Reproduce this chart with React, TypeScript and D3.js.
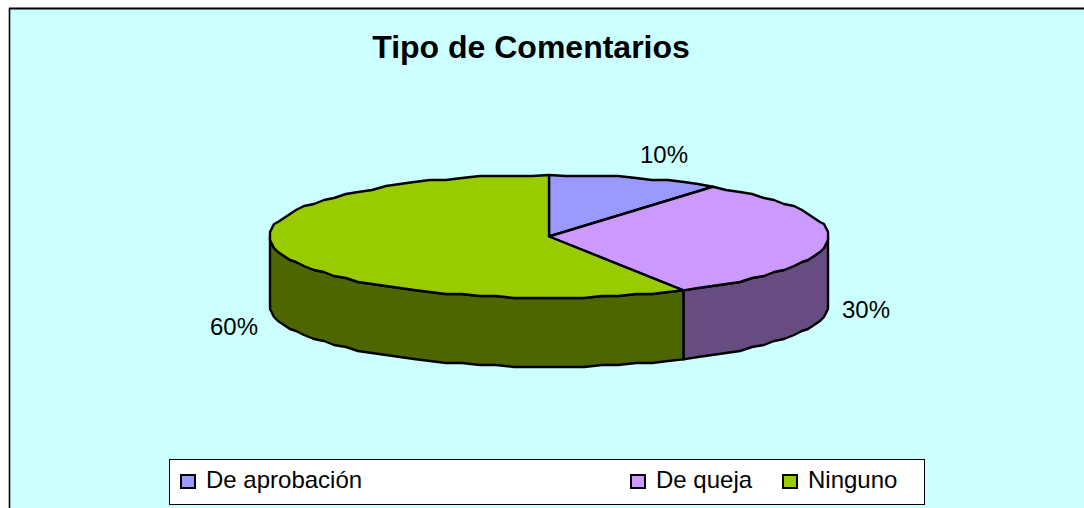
import React from "react";
import * as d3 from "d3";

const title = "Tipo de Comentarios";
const categories = ["De aprobación", "De queja", "Ninguno"];
const percentLabels = ["10%", "30%", "60%"];
// Sweep of each slice as drawn in the 3D projection (the picture's perspective widens the front)
const drawnShares = [10, 32, 58];
const topColors = ["#9999FF", "#CC99FF", "#99CC00"];
const sideColors = ["#4C4C80", "#664C80", "#4D6600"];

const W = 1084;
const H = 508;
const FONT = "'Liberation Sans', Arial, sans-serif";
const DEPTH = 69;
const STEP = (3.6 * Math.PI) / 180;
const GRID = 2;

const sx = d3.scaleLinear().domain([-1, 1]).range([270, 828]);
const sy = d3.scaleLinear().domain([-1, 1]).range([175, 298]);

const arcs = d3
  .pie<number>()
  .sort(null)
  .value((d) => d)(drawnShares);

const snap = (v: number) => Math.round(v / GRID) * GRID;

// Outline point on the ellipse; coarse snapping mimics the stepped outline of the original
const rim = (a: number, dy = 0): [number, number] => {
  const x = sx(Math.sin(a));
  const y = sy(-Math.cos(a));
  return [snap(x), snap(y) + dy];
};

const samples = (a0: number, a1: number, dy = 0): [number, number][] => {
  const pts: [number, number][] = [];
  const exact = (a: number): [number, number] => [sx(Math.sin(a)), sy(-Math.cos(a)) + dy];
  pts.push(exact(a0));
  const first = Math.ceil(a0 / STEP + 0.01);
  for (let k = first; k * STEP < a1 - 0.01; k++) pts.push(rim(k * STEP, dy));
  pts.push(exact(a1));
  return pts;
};

const line = d3.line<[number, number]>();
const center: [number, number] = [sx(0), sy(0)];

const topPath = (a0: number, a1: number) => line([center, ...samples(a0, a1), center]) + "Z";
const sidePath = (a0: number, a1: number) =>
  line([...samples(a0, a1), ...samples(a0, a1, DEPTH).reverse()]) + "Z";

const FRONT_START = Math.PI / 2;
const FRONT_END = (3 * Math.PI) / 2;

const labelAnchors: [number, number][] = [
  [664, 163],
  [866, 318],
  [234, 335],
];
const legendX = [181, 631, 783];

export default function App() {
  return (
    <svg
      width={W}
      height={H}
      viewBox={`0 0 ${W} ${H}`}
      style={{ position: "absolute", left: 0, top: 0, display: "block" }}
    >
      <rect x={0} y={0} width={W} height={H} fill="#FFFFFF" />
      <rect x={10} y={9} width={W} height={H} fill="#CCFFFF" />
      <line x1={9} y1={8.5} x2={W} y2={8.5} stroke="#000" strokeWidth={1.8} />
      <line x1={9.5} y1={8} x2={9.5} y2={H} stroke="#000" strokeWidth={1.6} />
      <text x={531} y={58} textAnchor="middle" fontFamily={FONT} fontWeight="bold" fontSize={32} fill="#000">
        {title}
      </text>

      {arcs.map((a, i) => {
        const s = Math.max(a.startAngle, FRONT_START);
        const e = Math.min(a.endAngle, FRONT_END);
        return e > s ? (
          <path key={i} d={sidePath(s, e)} fill={sideColors[i]} stroke="#000" strokeWidth={2.4} strokeLinejoin="round" />
        ) : null;
      })}
      {arcs.map((a, i) => (
        <path
          key={i}
          d={topPath(a.startAngle, a.endAngle)}
          fill={topColors[i]}
          stroke="#000"
          strokeWidth={2.4}
          strokeLinejoin="round"
        />
      ))}

      {percentLabels.map((t, i) => (
        <text key={t} x={labelAnchors[i][0]} y={labelAnchors[i][1]} textAnchor="middle" fontFamily={FONT} fontSize={24} fill="#000">
          {t}
        </text>
      ))}

      <rect x={169.5} y={459.5} width={755} height={45} fill="#FFFFFF" stroke="#000" strokeWidth={1} />
      {categories.map((c, i) => (
        <g key={c}>
          <rect x={legendX[i]} y={475} width={14} height={13} fill={topColors[i]} stroke="#000" strokeWidth={2} />
          <text x={legendX[i] + 25} y={488} fontFamily={FONT} fontSize={24} fill="#000">
            {c}
          </text>
        </g>
      ))}
    </svg>
  );
}
